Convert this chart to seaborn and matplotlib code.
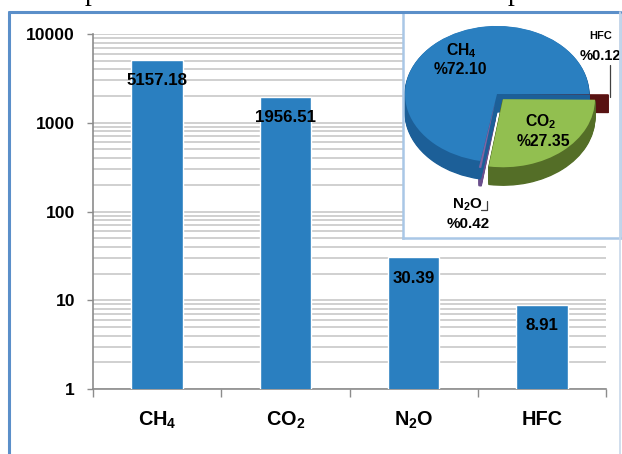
import matplotlib
matplotlib.use("Agg")
import matplotlib.pyplot as plt
from matplotlib import font_manager
from matplotlib.lines import Line2D
from matplotlib.ticker import FixedLocator, LogLocator, NullFormatter
import pandas as pd
import seaborn as sns

# Emissions by gas (log-scale bar chart)
gases = ["CH$_4$", "CO$_2$", "N$_2$O", "HFC"]
emissions = [5157.18, 1956.51, 30.39, 8.91]
y_ticks = [1, 10, 100, 1000, 10000]
y_tick_labels = ["1", "10", "100", "1000", "10000"]

# Share of each gas (pie inset), in drawing order
pie_gases = ["CH$_4$", "N$_2$O", "CO$_2$", "HFC"]
pie_shares = [72.10, 0.42, 27.35, 0.12]
pie_share_labels = ["%72.10", "%0.42", "%27.35", "%0.12"]

sns.set_style("white")
installed = {f.name for f in font_manager.fontManager.ttflist}
if "Liberation Sans Narrow" in installed:
    FAMILY, K = "Liberation Sans Narrow", 1.0
else:
    FAMILY, K = "Liberation Sans", 0.84
plt.rcParams["font.family"] = [FAMILY, "DejaVu Sans"]
plt.rcParams["font.weight"] = "bold"
plt.rcParams["mathtext.fontset"] = "custom"
plt.rcParams["mathtext.rm"] = FAMILY + ":bold"
plt.rcParams["mathtext.bf"] = FAMILY + ":bold"
plt.rcParams["mathtext.default"] = "rm"

W, H = 622, 454
fig = plt.figure(figsize=(W / 100, H / 100), dpi=100)
fig.patch.set_facecolor("white")


def fx(px):
    return px / W


def fy(py):
    return 1 - py / H


BAR = "#2a7fc0"
GRID = "#c4c4c4"
AXIS = "#8c8c8c"

# ---- main bar chart ----
ax = fig.add_axes([fx(93), fy(389), fx(606) - fx(93), fy(34) - fy(389)])
df = pd.DataFrame({"gas": gases, "value": emissions})
sns.barplot(data=df, x="gas", y="value", color=BAR, saturation=1,
            width=0.4, ax=ax, zorder=3)
ax.set_yscale("log")
ax.set_ylim(1, 10000)
ax.set_xlim(-0.5, 3.5)
ax.set_xlabel("")
ax.set_ylabel("")
ax.set_axisbelow(True)

ax.yaxis.set_major_locator(FixedLocator(y_ticks))
ax.set_yticklabels(y_tick_labels)
ax.yaxis.set_minor_locator(LogLocator(base=10, subs=range(2, 10)))
ax.yaxis.set_minor_formatter(NullFormatter())
ax.grid(True, which="both", axis="y", color=GRID, lw=1.1)
ax.grid(False, axis="x")

ax.xaxis.set_minor_locator(FixedLocator([-0.5, 0.5, 1.5, 2.5, 3.5]))
ax.tick_params(axis="x", which="major", length=0, pad=15,
               labelsize=17 * K)
ax.tick_params(axis="x", which="minor", length=6, width=1, color=AXIS,
               direction="out", bottom=True)
ax.tick_params(axis="y", which="major", length=4.5, width=1, color=AXIS,
               direction="out", left=True, pad=8.5, labelsize=15 * K)
ax.tick_params(axis="y", which="minor", length=0)
for lab in ax.get_xticklabels() + ax.get_yticklabels():
    lab.set_fontweight("bold")
    lab.set_color("black")

for side in ("top", "right"):
    ax.spines[side].set_visible(False)
for side in ("left", "bottom"):
    ax.spines[side].set_color(AXIS)
    ax.spines[side].set_linewidth(1.2)

for bar, v in zip(ax.patches, emissions):
    ax.annotate(f"{v:.2f}", xy=(bar.get_x() + bar.get_width() / 2, v),
                xytext=(0, -15), textcoords="offset points",
                ha="center", va="center", fontsize=14.5 * K,
                fontweight="bold", color="black", zorder=4)

# ---- 3D-style pie inset ----
SQ = 0.74          # vertical squash of the pie disc
DEPTH = 18         # thickness of the pie, px
pax = fig.add_axes([fx(403), fy(238), fx(620) - fx(403), fy(12) - fy(238)],
                   zorder=5)


def P(px, py):
    return px, (H - py) / SQ


top_colors = ["#2a7fc0", "#8064a2", "#92bf50", "#6e1717"]
side_colors = ["#1c5f98", "#6a4f8c", "#546e27", "#581212"]
side_order = [1.0, 0.6, 1.0, 0.5]   # thin slices sit behind the big walls
cx, cy = P(497, 94)
R = 92
# explode distances are given in data units, so scale by the radius
explode = [f * R for f in (0.0, 0.10, 0.10, 0.21)]

# stacked layers below the top disc form the side walls
for k in range(DEPTH, 0, -1):
    wedges, _ = pax.pie(pie_shares, colors=side_colors, startangle=0,
                        counterclock=True, explode=explode,
                        center=(cx, cy - k / SQ), radius=R, frame=True)
    for w, z in zip(wedges, side_order):
        w.set_edgecolor(w.get_facecolor())
        w.set_linewidth(0.9)
        w.set_zorder(z)
top_wedges, _ = pax.pie(pie_shares, colors=top_colors, startangle=0,
                        counterclock=True, explode=explode, center=(cx, cy),
                        radius=R, frame=True, wedgeprops=dict(linewidth=0))
for w in top_wedges:
    w.set_zorder(2)

pax.set_aspect("auto")
pax.set_xlim(403, 620)
pax.set_ylim((H - 238) / SQ, (H - 12) / SQ)
pax.set_xticks([])
pax.set_yticks([])
pax.set_facecolor("white")
pax.set_frame_on(True)
for s in pax.spines.values():
    s.set_color("#a9c7e6")
    s.set_linewidth(1.8)

# slice labels
label_pos = {
    "CH$_4$": ((461, 51), (460, 70), 13.5, 13.5),
    "CO$_2$": ((541, 122), (543, 142), 13.5, 13.5),
    "HFC": ((601, 36), (600, 56), 9.5, 12.5),
    "N$_2$O": ((467, 205), (468, 224), 13.0, 13.0),
}
for g, lab in zip(pie_gases, pie_share_labels):
    (n_xy, p_xy, n_fs, p_fs) = label_pos[g]
    pax.text(*P(*n_xy), g, ha="center", va="center", fontsize=n_fs * K,
             fontweight="bold", color="black", zorder=4)
    pax.text(*P(*p_xy), lab, ha="center", va="center", fontsize=p_fs * K,
             fontweight="bold", color="black", zorder=4)

# leader lines for the small slices
hx, hy = zip(P(610, 65), P(610, 97))
pax.plot(hx, hy, color="#404040", lw=0.9, zorder=3)
nx, ny = zip(P(481, 210), P(487, 210), P(487, 201))
pax.plot(nx, ny, color="#404040", lw=0.9, zorder=3)

# ---- outer frame ----
fig.add_artist(Line2D([fx(9), fx(9)], [fy(12), fy(454)], color="#5b8fc9",
                      lw=2.2, transform=fig.transFigure, zorder=10))
fig.add_artist(Line2D([fx(9), fx(620)], [fy(12), fy(12)], color="#5b8fc9",
                      lw=2.2, transform=fig.transFigure, zorder=10))
fig.add_artist(Line2D([fx(620), fx(620)], [fy(12), fy(454)], color="#c8d8ea",
                      lw=1.2, transform=fig.transFigure, zorder=10))

# surrounding document text, cut off by the top edge
for px in (85, 508):
    fig.text(fx(px), 1.0, "p", family="Liberation Serif", fontsize=20,
             fontweight="normal", ha="left", va="baseline", color="black")

fig.savefig("out.png", dpi=100)
